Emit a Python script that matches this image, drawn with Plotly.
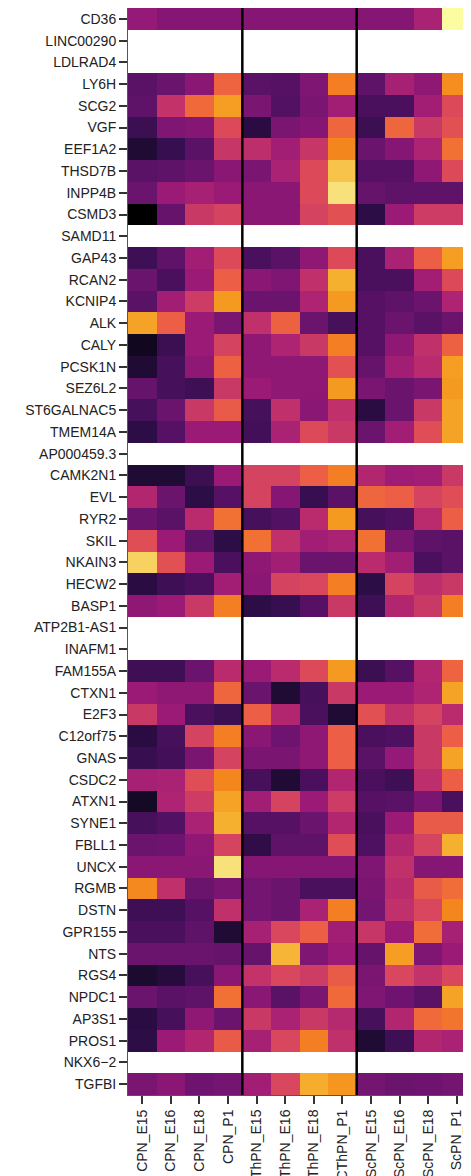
import plotly.graph_objects as go

genes = ["CD36", "LINC00290", "LDLRAD4", "LY6H", "SCG2", "VGF", "EEF1A2", "THSD7B",
         "INPP4B", "CSMD3", "SAMD11", "GAP43", "RCAN2", "KCNIP4", "ALK", "CALY",
         "PCSK1N", "SEZ6L2", "ST6GALNAC5", "TMEM14A", "AP000459.3", "CAMK2N1", "EVL",
         "RYR2", "SKIL", "NKAIN3", "HECW2", "BASP1", "ATP2B1-AS1", "INAFM1", "FAM155A",
         "CTXN1", "E2F3", "C12orf75", "GNAS", "CSDC2", "ATXN1", "SYNE1", "FBLL1", "UNCX",
         "RGMB", "DSTN", "GPR155", "NTS", "RGS4", "NPDC1", "AP3S1", "PROS1", "NKX6−2",
         "TGFBI"]

samples = ["CPN_E15", "CPN_E16", "CPN_E18", "CPN_P1",
           "CThPN_E15", "CThPN_E16", "CThPN_E18", "CThPN_P1",
           "ScPN_E15", "ScPN_E16", "ScPN_E18", "ScPN_P1"]

N = None
cpn_values = [
    [0.37, 0.34, 0.34, 0.34], [N, N, N, N], [N, N, N, N],
    [0.25, 0.29, 0.35, 0.64], [0.26, 0.49, 0.66, 0.79], [0.17, 0.33, 0.34, 0.56],
    [0.09, 0.16, 0.25, 0.50], [0.25, 0.26, 0.29, 0.35], [0.29, 0.38, 0.41, 0.38],
    [0.00, 0.28, 0.51, 0.54], [N, N, N, N], [0.18, 0.26, 0.40, 0.56],
    [0.29, 0.21, 0.38, 0.62], [0.25, 0.40, 0.52, 0.78], [0.80, 0.62, 0.38, 0.32],
    [0.05, 0.17, 0.38, 0.54], [0.09, 0.20, 0.36, 0.63], [0.28, 0.20, 0.18, 0.51],
    [0.20, 0.29, 0.51, 0.61], [0.13, 0.24, 0.38, 0.38], [N, N, N, N],
    [0.09, 0.09, 0.17, 0.38], [0.44, 0.29, 0.13, 0.24], [0.29, 0.25, 0.46, 0.68],
    [0.57, 0.38, 0.26, 0.13], [0.90, 0.58, 0.38, 0.21], [0.12, 0.18, 0.21, 0.40],
    [0.36, 0.38, 0.51, 0.71], [N, N, N, N], [N, N, N, N],
    [0.18, 0.18, 0.29, 0.46], [0.38, 0.36, 0.36, 0.65], [0.51, 0.38, 0.21, 0.17],
    [0.12, 0.20, 0.54, 0.71], [0.16, 0.19, 0.32, 0.54], [0.41, 0.42, 0.57, 0.73],
    [0.06, 0.43, 0.52, 0.80], [0.20, 0.23, 0.42, 0.83], [0.29, 0.30, 0.36, 0.54],
    [0.35, 0.35, 0.35, 0.93], [0.74, 0.48, 0.29, 0.32], [0.18, 0.18, 0.24, 0.48],
    [0.21, 0.21, 0.26, 0.09], [0.29, 0.29, 0.29, 0.28], [0.08, 0.11, 0.20, 0.35],
    [0.29, 0.25, 0.26, 0.68], [0.12, 0.20, 0.36, 0.29], [0.13, 0.38, 0.44, 0.61],
    [N, N, N, N], [0.32, 0.35, 0.30, 0.31],
]

cthpn_values = [
    [0.34, 0.34, 0.34, 0.34], [N, N, N, N], [N, N, N, N],
    [0.25, 0.24, 0.33, 0.71], [0.32, 0.23, 0.32, 0.40], [0.12, 0.32, 0.34, 0.65],
    [0.47, 0.40, 0.50, 0.73], [0.32, 0.42, 0.56, 0.87], [0.35, 0.35, 0.56, 0.93],
    [0.35, 0.35, 0.54, 0.58], [N, N, N, N], [0.21, 0.25, 0.36, 0.56],
    [0.35, 0.33, 0.48, 0.83], [0.29, 0.29, 0.43, 0.78], [0.48, 0.63, 0.29, 0.20],
    [0.36, 0.43, 0.51, 0.71], [0.36, 0.36, 0.36, 0.58], [0.38, 0.36, 0.36, 0.78],
    [0.20, 0.48, 0.35, 0.48], [0.19, 0.42, 0.56, 0.51], [N, N, N, N],
    [0.54, 0.54, 0.62, 0.71], [0.54, 0.34, 0.16, 0.25], [0.20, 0.23, 0.46, 0.78],
    [0.68, 0.48, 0.40, 0.42], [0.36, 0.40, 0.29, 0.29], [0.35, 0.54, 0.55, 0.71],
    [0.13, 0.16, 0.24, 0.51], [N, N, N, N], [N, N, N, N],
    [0.38, 0.46, 0.56, 0.78], [0.29, 0.09, 0.20, 0.51], [0.62, 0.44, 0.21, 0.09],
    [0.35, 0.30, 0.36, 0.62], [0.32, 0.32, 0.36, 0.62], [0.20, 0.09, 0.21, 0.44],
    [0.40, 0.54, 0.38, 0.52], [0.24, 0.24, 0.29, 0.44], [0.14, 0.26, 0.26, 0.57],
    [0.34, 0.34, 0.34, 0.34], [0.31, 0.29, 0.21, 0.21], [0.31, 0.29, 0.42, 0.71],
    [0.41, 0.55, 0.62, 0.40], [0.28, 0.84, 0.33, 0.38], [0.49, 0.55, 0.52, 0.61],
    [0.35, 0.25, 0.32, 0.66], [0.51, 0.42, 0.51, 0.45], [0.41, 0.55, 0.71, 0.48],
    [N, N, N, N], [0.40, 0.55, 0.82, 0.77],
]

scpn_values = [
    [0.34, 0.34, 0.42, 1.00], [N, N, N, N], [N, N, N, N],
    [0.26, 0.41, 0.36, 0.75], [0.21, 0.21, 0.40, 0.56], [0.17, 0.65, 0.51, 0.58],
    [0.29, 0.34, 0.43, 0.68], [0.24, 0.24, 0.36, 0.56], [0.28, 0.26, 0.26, 0.26],
    [0.13, 0.38, 0.52, 0.52], [N, N, N, N], [0.21, 0.42, 0.62, 0.79],
    [0.21, 0.21, 0.40, 0.56], [0.24, 0.26, 0.29, 0.43], [0.24, 0.29, 0.25, 0.29],
    [0.24, 0.36, 0.48, 0.63], [0.28, 0.40, 0.46, 0.79], [0.32, 0.29, 0.32, 0.78],
    [0.12, 0.29, 0.51, 0.80], [0.29, 0.40, 0.57, 0.80], [N, N, N, N],
    [0.44, 0.39, 0.40, 0.51], [0.65, 0.62, 0.54, 0.57], [0.20, 0.22, 0.46, 0.62],
    [0.68, 0.32, 0.26, 0.25], [0.46, 0.40, 0.21, 0.25], [0.13, 0.54, 0.47, 0.51],
    [0.18, 0.44, 0.51, 0.71], [N, N, N, N], [N, N, N, N],
    [0.17, 0.24, 0.44, 0.64], [0.38, 0.38, 0.43, 0.80], [0.58, 0.48, 0.54, 0.46],
    [0.21, 0.22, 0.51, 0.62], [0.25, 0.37, 0.51, 0.80], [0.21, 0.18, 0.47, 0.62],
    [0.24, 0.25, 0.32, 0.21], [0.21, 0.38, 0.61, 0.61], [0.22, 0.44, 0.54, 0.83],
    [0.33, 0.48, 0.34, 0.34], [0.32, 0.46, 0.61, 0.67], [0.31, 0.48, 0.55, 0.73],
    [0.50, 0.38, 0.67, 0.41], [0.28, 0.79, 0.33, 0.38], [0.32, 0.55, 0.49, 0.55],
    [0.33, 0.30, 0.25, 0.80], [0.20, 0.44, 0.66, 0.69], [0.09, 0.18, 0.44, 0.42],
    [N, N, N, N], [0.31, 0.29, 0.30, 0.31],
]

# inferno-like palette as it appears in the reference (vivid magentas)
palette = [
    [0.00, "#000000"], [0.06, "#140a26"], [0.12, "#2a0c42"], [0.18, "#3e0f55"],
    [0.22, "#4e1060"], [0.26, "#5e1268"], [0.30, "#6e1470"], [0.34, "#861674"],
    [0.38, "#9a1a76"], [0.43, "#ae2472"], [0.48, "#c0306a"], [0.52, "#cc3c64"],
    [0.56, "#dc4a5a"], [0.62, "#ec5e46"], [0.67, "#f06c38"], [0.72, "#f4821e"],
    [0.78, "#f59a20"], [0.83, "#f6b030"], [0.88, "#f7c850"], [0.93, "#f8e07a"],
    [1.00, "#fcfca0"],
]

z = [a + b + c for a, b, c in zip(cpn_values, cthpn_values, scpn_values)]

fig = go.Figure(go.Heatmap(
    z=z, x=samples, y=genes,
    colorscale=palette, zmin=0, zmax=1,
    showscale=False, hoverongaps=False,
))

# group separators
for xpos in (3.5, 7.5):
    fig.add_shape(type="line", x0=xpos, x1=xpos, y0=0, y1=1,
                  xref="x", yref="paper",
                  line=dict(color="black", width=2.5))

font = dict(family="Liberation Sans, Arial, sans-serif", size=14, color="#222222")

# the page body adds an 8px margin, so the figure is sized to end at the window edge
fig.update_layout(
    width=463, height=1168,
    margin=dict(l=120, r=0, t=0, b=81),
    template="none",
    plot_bgcolor="white", paper_bgcolor="white",
    font=font,
    xaxis=dict(type="category", tickangle=-90, ticks="outside", ticklen=8,
               tickwidth=1.5, tickcolor="#333333", showline=True, mirror=True,
               linecolor="#555555", linewidth=1, showgrid=False, zeroline=False,
               automargin=False, tickfont=font),
    yaxis=dict(type="category", autorange="reversed", ticks="outside", ticklen=8,
               tickwidth=1.5, tickcolor="#333333", showline=True, mirror=False,
               linecolor="#555555", linewidth=1, showgrid=False, zeroline=False,
               automargin=False, tickfont=font),
)

fig.write_html("out.html")
